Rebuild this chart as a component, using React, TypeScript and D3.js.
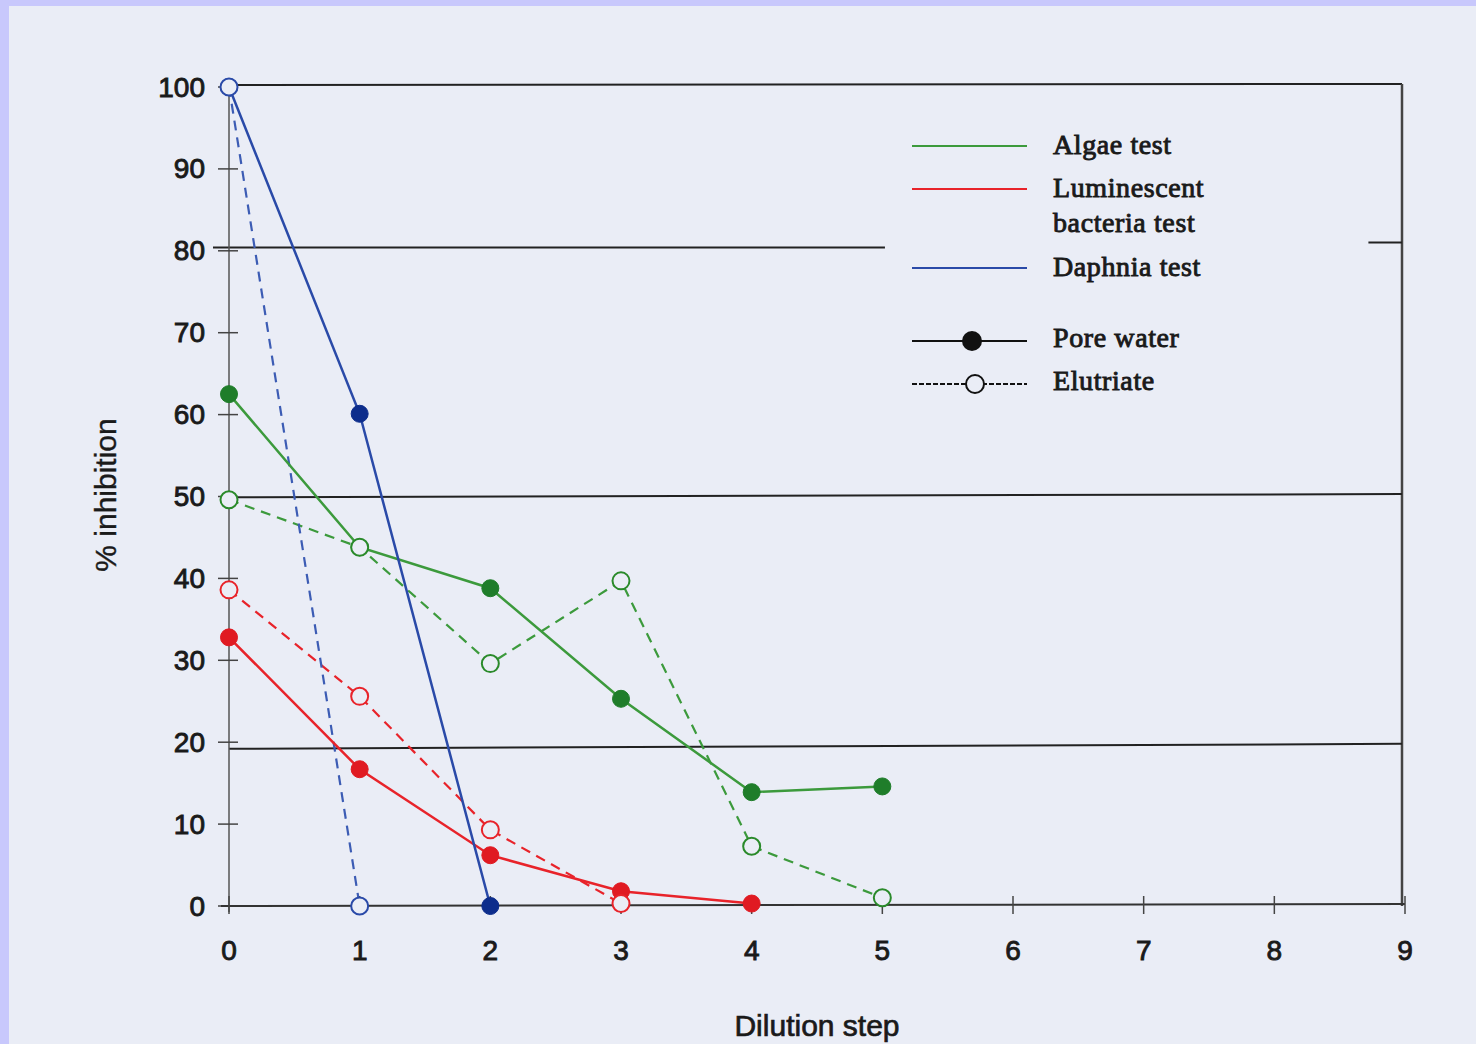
import React from "react";
import * as d3 from "d3";

const width = 1476;
const height = 1044;

// dilution steps on the x axis
const steps = [0, 1, 2, 3, 4, 5, 6, 7, 8, 9];
const yTicks = [0, 10, 20, 30, 40, 50, 60, 70, 80, 90, 100];

// % inhibition per dilution step (index = step)
const algaePore = [62.5, 43.8, 38.8, 25.3, 13.9, 14.6];
const algaeElut = [49.6, 43.8, 29.6, 39.7, 7.3, 1.0];
const lumPore = [32.8, 16.7, 6.2, 1.8, 0.3];
const lumElut = [38.6, 25.6, 9.3, 0.3];
const daphPore = [100, 60.1, 0];
const daphElut = [100, 0];

// horizontal reference lines (left end, right end) - scan is slightly tilted
const refLines = [
  [80.4, 80.4],
  [49.9, 50.3],
  [19.2, 19.8]
];

const legendTests = [
  { label: ["Algae test"], color: "#3c9a3c" },
  { label: ["Luminescent", "bacteria test"], color: "#e8232a" },
  { label: ["Daphnia test"], color: "#2a4aa8" }
];

const bg = "#eaedf6";

const x = d3.scaleLinear().domain([0, 9]).range([229, 1405]);
const y = d3.scaleLinear().domain([0, 100]).range([906, 87]);

const line = d3
  .line<number>()
  .x((d, i) => x(i))
  .y(d => y(d));

const series = [
  { values: algaeElut, line: "#3c9a3c", marker: "#2a8a2a", open: true },
  { values: lumElut, line: "#e8232a", marker: "#e8232a", open: true },
  { values: daphElut, line: "#3c5cb4", marker: "#2a4aa8", open: true },
  { values: algaePore, line: "#3c9a3c", marker: "#1f7d2a", open: false },
  { values: lumPore, line: "#e8232a", marker: "#e01a22", open: false },
  { values: daphPore, line: "#2a4aa8", marker: "#0d2d8c", open: false }
];

const sans = "'Liberation Sans', Arial, sans-serif";
const serif = "'Liberation Serif', 'Times New Roman', serif";
const ink = "#1a1a1a";

export default function App() {
  const legendX = 912;
  const legendY = [146, 189, 268];
  const legendText = {
    fontFamily: serif,
    fontSize: 28,
    letterSpacing: 0.6,
    fill: ink,
    stroke: ink,
    strokeWidth: 0.9
  };
  return (
    <svg
      width={width}
      height={height}
      style={{ position: "absolute", left: 0, top: 0 }}
    >
      <rect x={0} y={0} width={width} height={height} fill="#c8c8fc" />
      <rect x={9} y={6} width={width - 9} height={height - 6} fill={bg} />

      {/* frame */}
      <line x1={x(0)} x2={x(9) - 3} y1={y(100) - 2} y2={y(100) - 3} stroke="#222" strokeWidth={2} />
      <line x1={x(9) - 3} x2={x(9) - 3} y1={y(100) - 3} y2={y(0)} stroke="#444" strokeWidth={2.5} />

      {/* reference lines */}
      {refLines.map(([a, b], i) =>
        i === 0 ? (
          <g key={i}>
            <line x1={x(0) - 16} x2={x(5.02)} y1={y(a)} y2={y(b)} stroke="#222" strokeWidth={2} />
            <line x1={x(8.72)} x2={x(9) - 3} y1={y(b) - 5} y2={y(b) - 5} stroke="#222" strokeWidth={2} />
          </g>
        ) : (
          <line key={i} x1={x(0)} x2={x(9) - 3} y1={y(a)} y2={y(b)} stroke="#222" strokeWidth={2} />
        )
      )}

      {/* y axis */}
      <line x1={x(0)} x2={x(0)} y1={y(100)} y2={y(0) + 6} stroke="#555" strokeWidth={1.5} />
      {yTicks.map(t => (
        <g key={t}>
          <line x1={x(0) - 11} x2={x(0) + 9} y1={y(t)} y2={y(t)} stroke="#444" strokeWidth={1.5} />
          <text
            x={x(0) - 24}
            y={y(t)}
            textAnchor="end"
            dominantBaseline="central"
            fontFamily={sans}
            fontSize={28}
            fill={ink}
            stroke={ink}
            strokeWidth={0.9}
          >
            {t}
          </text>
        </g>
      ))}

      {/* x axis */}
      <line x1={x(0) - 8} x2={x(9)} y1={y(0)} y2={y(0) - 2} stroke="#333" strokeWidth={2} />
      {steps.map(s => (
        <g key={s}>
          <line x1={x(s)} x2={x(s)} y1={y(0) - 10} y2={y(0) + 8} stroke="#444" strokeWidth={1.5} />
          <text
            x={x(s)}
            y={960}
            textAnchor="middle"
            fontFamily={sans}
            fontSize={28}
            fill={ink}
            stroke={ink}
            strokeWidth={0.9}
          >
            {s}
          </text>
        </g>
      ))}

      <text
        x={817}
        y={1036}
        textAnchor="middle"
        fontFamily={sans}
        fontSize={30}
        fill={ink}
        stroke={ink}
        strokeWidth={0.7}
      >
        Dilution step
      </text>
      <text
        transform="translate(105,495) rotate(-90)"
        textAnchor="middle"
        dominantBaseline="central"
        fontFamily={sans}
        fontSize={30}
        fill={ink}
        stroke={ink}
        strokeWidth={0.4}
      >
        % inhibition
      </text>

      {/* lines */}
      {series.map((s, i) => (
        <path
          key={"l" + i}
          d={line(s.values) || ""}
          fill="none"
          stroke={s.line}
          strokeWidth={s.open ? 2.2 : 2.5}
          strokeDasharray={s.open ? "10,7" : undefined}
        />
      ))}

      {/* markers: pore water first, elutriate on top */}
      {[...series.slice(3), ...series.slice(0, 3)].map((s, i) =>
        s.values.map((v, j) => (
          <circle
            key={"m" + i + "-" + j}
            cx={x(j)}
            cy={y(v)}
            r={8.5}
            fill={s.open ? bg : s.marker}
            stroke={s.marker}
            strokeWidth={s.open ? 2 : 1}
          />
        ))
      )}

      {/* legend */}
      {legendTests.map((t, i) => (
        <g key={"lt" + i}>
          <line x1={legendX} x2={legendX + 115} y1={legendY[i]} y2={legendY[i]} stroke={t.color} strokeWidth={2} />
          {t.label.map((l, k) => (
            <text
              key={k}
              x={1053}
              y={legendY[i] + 2 + k * 35}
              dominantBaseline="middle"
              {...legendText}
            >
              {l}
            </text>
          ))}
        </g>
      ))}
      <line x1={legendX} x2={legendX + 115} y1={341} y2={341} stroke="#111" strokeWidth={2} />
      <circle cx={972} cy={341} r={10} fill="#111" />
      <text x={1053} y={341} dominantBaseline="middle" {...legendText}>
        Pore water
      </text>
      <line x1={legendX} x2={legendX + 115} y1={384} y2={384} stroke="#111" strokeWidth={2} strokeDasharray="5,2" />
      <circle cx={975} cy={384} r={9} fill={bg} stroke="#111" strokeWidth={2} />
      <text x={1053} y={384} dominantBaseline="middle" {...legendText}>
        Elutriate
      </text>
    </svg>
  );
}
